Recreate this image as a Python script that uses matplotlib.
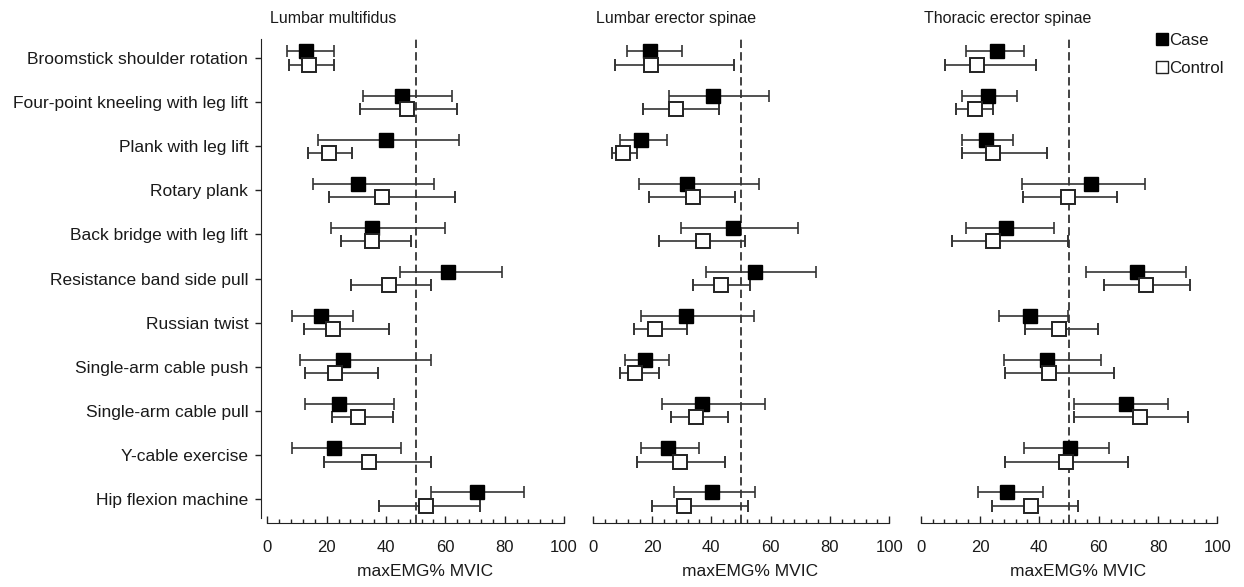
import matplotlib
matplotlib.use('Agg')
import matplotlib.pyplot as plt
from matplotlib.lines import Line2D
from matplotlib.ticker import MultipleLocator
import numpy as np

plt.rcParams['font.family'] = ['Liberation Sans', 'DejaVu Sans']

exercises = ['Broomstick shoulder rotation', 'Four-point kneeling with leg lift',
             'Plank with leg lift', 'Rotary plank', 'Back bridge with leg lift',
             'Resistance band side pull', 'Russian twist', 'Single-arm cable push',
             'Single-arm cable pull', 'Y-cable exercise', 'Hip flexion machine']

muscles = ['Lumbar multifidus', 'Lumbar erector spinae', 'Thoracic erector spinae']

# Lumbar multifidus
lm_case = [13.0, 45.3, 39.9, 30.4, 35.4, 60.8, 18.0, 25.4, 24.1, 22.5, 70.5]
lm_case_lo = [6.7, 32.3, 17.0, 15.3, 21.3, 44.7, 8.4, 10.9, 12.7, 8.4, 55.1]
lm_case_hi = [22.5, 62.2, 64.5, 56.2, 60.0, 79.0, 28.9, 55.1, 42.7, 45.1, 86.4]
lm_ctrl = [14.0, 47.0, 20.8, 38.6, 35.4, 40.9, 22.0, 22.9, 30.4, 34.1, 53.4]
lm_ctrl_lo = [7.3, 31.3, 13.7, 20.9, 24.8, 28.2, 12.5, 12.7, 21.7, 19.1, 37.7]
lm_ctrl_hi = [22.5, 64.0, 28.4, 63.2, 48.3, 55.1, 40.9, 37.4, 42.2, 55.1, 71.6]

# Lumbar erector spinae
les_case = [19.4, 40.6, 16.4, 31.7, 47.4, 54.7, 31.3, 17.6, 37.0, 25.3, 40.2]
les_case_lo = [11.6, 25.7, 9.2, 15.6, 29.8, 38.2, 16.4, 10.8, 23.3, 16.4, 27.4]
les_case_hi = [30.1, 59.6, 24.9, 56.1, 69.2, 75.3, 54.4, 25.7, 58.0, 35.7, 54.7]
les_ctrl = [19.7, 28.1, 10.3, 33.7, 37.3, 43.4, 20.9, 14.3, 34.9, 29.3, 30.9]
les_ctrl_lo = [7.5, 16.9, 6.4, 18.9, 22.5, 33.9, 13.9, 9.2, 26.4, 14.8, 20.0]
les_ctrl_hi = [47.5, 42.6, 14.8, 47.9, 51.5, 53.0, 31.9, 22.5, 45.5, 44.7, 52.3]

# Thoracic erector spinae
tes_case = [25.6, 22.7, 21.9, 57.4, 28.8, 73.0, 36.9, 42.5, 69.2, 50.3, 29.0]
tes_case_lo = [15.2, 13.9, 13.9, 34.2, 15.2, 55.7, 26.4, 28.2, 51.8, 34.8, 19.2]
tes_case_hi = [34.8, 32.4, 31.2, 75.7, 44.9, 89.5, 49.8, 60.8, 83.4, 63.5, 41.3]
tes_ctrl = [19.1, 18.3, 24.4, 49.8, 24.4, 76.0, 46.6, 43.4, 73.9, 48.9, 37.3]
tes_ctrl_lo = [8.3, 11.9, 13.9, 34.4, 10.7, 61.8, 35.2, 28.5, 51.8, 28.5, 23.9]
tes_ctrl_hi = [38.9, 24.4, 42.5, 66.2, 49.8, 90.9, 59.8, 65.2, 90.2, 69.9, 53.1]

threshold = 50

panels = [
    (lm_case, lm_case_lo, lm_case_hi, lm_ctrl, lm_ctrl_lo, lm_ctrl_hi),
    (les_case, les_case_lo, les_case_hi, les_ctrl, les_ctrl_lo, les_ctrl_hi),
    (tes_case, tes_case_lo, tes_case_hi, tes_ctrl, tes_ctrl_lo, tes_ctrl_hi),
]

TXT = '#1a1a1a'

fig = plt.figure(figsize=(12.44, 5.87), dpi=100)
lefts = [0.2149, 0.4764, 0.7401]
width = 0.2385
bottom, height = 0.1090, 0.8245

ypos = np.arange(len(exercises))
off = 0.15

for n, (name, data) in enumerate(zip(muscles, panels)):
    ax = fig.add_axes([lefts[n], bottom, width, height])
    case, case_lo, case_hi, ctrl, ctrl_lo, ctrl_hi = [np.array(d) for d in data]

    # 50% MVIC reference line
    ax.axvline(threshold, color='#222222', lw=1.2, ls=(0, (5, 2.5)), zorder=1)

    ax.errorbar(case, ypos - off, xerr=[case - case_lo, case_hi - case],
                fmt='s', color='black', ecolor='#333333', elinewidth=1.2,
                capsize=4, capthick=1.2, ms=10, mfc='black', mec='black', zorder=3)
    ax.errorbar(ctrl, ypos + off, xerr=[ctrl - ctrl_lo, ctrl_hi - ctrl],
                fmt='s', color='black', ecolor='#333333', elinewidth=1.2,
                capsize=4, capthick=1.2, ms=10, mfc='white', mec='#222222',
                mew=1.4, zorder=3)

    ax.set_xlim(0, 100)
    ax.set_ylim(10.544, -0.431)
    for s in ['top', 'right']:
        ax.spines[s].set_visible(False)
    ax.spines['bottom'].set_color('#222222')
    ax.spines['left'].set_color('#222222')

    ax.xaxis.set_major_locator(MultipleLocator(20))
    ax.xaxis.set_minor_locator(MultipleLocator(4))
    ax.tick_params(axis='x', which='major', direction='in', length=5, width=1,
                   pad=12, labelsize=12, labelcolor=TXT, color='#222222')
    ax.tick_params(axis='x', which='minor', direction='in', length=3, width=1,
                   color='#222222')
    ax.set_xlabel('maxEMG% MVIC', fontsize=12.5, color=TXT)
    ax.xaxis.set_label_coords(0.53, -0.085)

    if n == 0:
        ax.spines['left'].set_position(('outward', 4.3))
        ax.spines['left'].set_bounds(-0.431, 10.43)
        ax.set_yticks(ypos)
        ax.set_yticklabels(exercises)
        ax.tick_params(axis='y', direction='out', length=4.5, width=1, pad=5,
                       labelsize=12.5, labelcolor=TXT, color='#222222')
    else:
        ax.spines['left'].set_visible(False)
        ax.set_yticks([])

    ax.text(0.01, 1.0434, name, transform=ax.transAxes, ha='left', va='center',
            fontsize=11.5, color=TXT)

    if n == 2:
        handles = [Line2D([], [], marker='s', ls='none', color='black', mfc='black', ms=8.5),
                   Line2D([], [], marker='s', ls='none', color='black', mfc='white',
                          mec='#222222', mew=1, ms=8.5)]
        ax.legend(handles, ['Case', 'Control'], loc='upper left',
                  bbox_to_anchor=(1157 / 1244, 1 - 33 / 587),
                  bbox_transform=fig.transFigure, frameon=False, fontsize=12.2,
                  handlelength=0.6, handletextpad=0.1, labelspacing=0.75,
                  borderpad=0, borderaxespad=0, labelcolor=TXT)

fig.savefig('out.png', dpi=100)
